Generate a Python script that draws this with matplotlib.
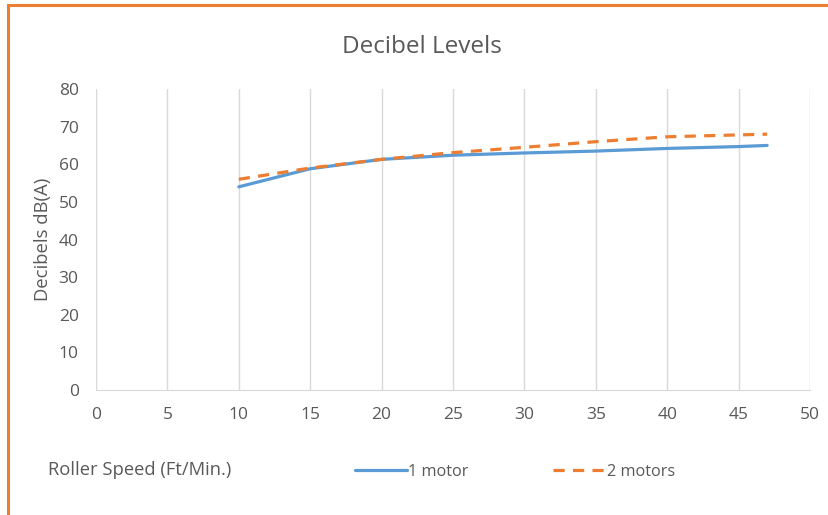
import matplotlib
matplotlib.use('Agg')
import matplotlib.pyplot as plt
from matplotlib.patches import Rectangle

plt.rcParams['font.family'] = ['Open Sans', 'DejaVu Sans']

speed_1 = [10, 15, 20, 25, 30, 35, 40, 45, 47]
db_1 = [54.0, 58.8, 61.3, 62.4, 63.0, 63.5, 64.2, 64.7, 65.0]
speed_2 = [10, 15, 20, 25, 30, 35, 40, 45, 47]
db_2 = [56.0, 59.0, 61.3, 63.1, 64.5, 66.0, 67.3, 67.8, 68.0]
labels = ['1 motor', '2 motors']
xticks = list(range(0, 51, 5))
yticks = list(range(0, 81, 10))

BLUE = '#5B9BD5'; ORANGE = '#ED7D31'; GREY = '#595959'; GRID = '#D9D9D9'
W, H = 829, 515
fig = plt.figure(figsize=(W/100, H/100), dpi=100)
fig.patches.append(Rectangle((8/W, -0.1), 1.2, 1.1 - 5/H, transform=fig.transFigure,
                             fill=False, edgecolor=ORANGE, linewidth=2.2))
ax = fig.add_axes([96/W, 1-390/H, (810-96)/W, (390-89)/H])

ax.plot(speed_1, db_1, color=BLUE, lw=2.3, label=labels[0], solid_capstyle='round')
ax.plot(speed_2, db_2, color=ORANGE, lw=2.3, label=labels[1], dashes=(3.5, 2.6))

ax.set_xlim(0, 50); ax.set_ylim(0, 80)
ax.set_xticks(xticks); ax.set_yticks(yticks)
ax.xaxis.grid(True, color=GRID, lw=1); ax.yaxis.grid(False)
ax.set_axisbelow(True)
for s in ['top', 'right', 'left']:
    ax.spines[s].set_visible(False)
ax.spines['bottom'].set_color(GRID)
ax.tick_params(length=0, labelsize=12.5, labelcolor=GREY)
ax.tick_params(axis='x', pad=12)
ax.tick_params(axis='y', pad=12.5)

fig.text(422/W, 1-47/H, 'Decibel Levels', ha='center', va='center', fontsize=17.5, color=GREY)
fig.text(43/W, 1-239/H, 'Decibels dB(A)', rotation=90, ha='center', va='center', fontsize=13.3, color=GREY)
fig.text(48/W, 1-470/H, 'Roller Speed (Ft/Min.)', ha='left', va='center', fontsize=13.2, color=GREY)

fig.legend(loc='center', bbox_to_anchor=(515/W, 1-472/H), ncol=2, frameon=False,
           fontsize=11.7, labelcolor=GREY, handlelength=3.2, handletextpad=0.1, columnspacing=5.2)

fig.savefig('out.png', dpi=100)
